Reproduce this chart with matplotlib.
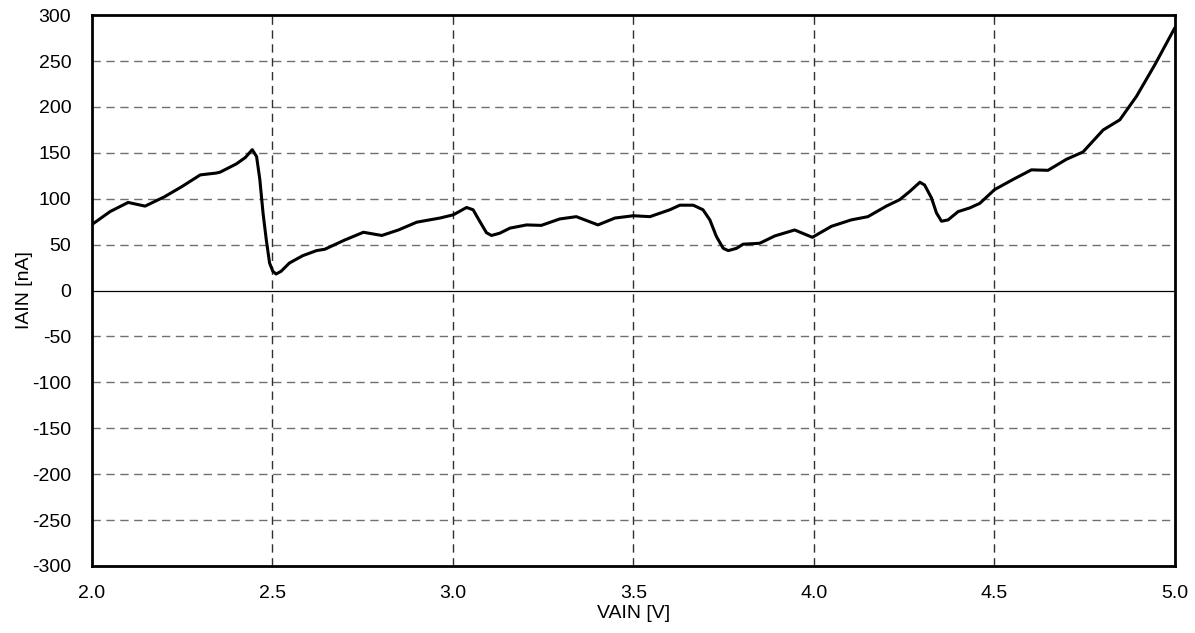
import matplotlib
matplotlib.use("Agg")
import matplotlib.pyplot as plt

plt.rcParams["font.family"] = ["Liberation Sans", "DejaVu Sans"]
plt.rcParams["axes.unicode_minus"] = False

# IAIN vs VAIN
vain = [2.0, 2.05, 2.10, 2.147, 2.20, 2.248, 2.30, 2.344, 2.355, 2.40, 2.425, 2.444,
        2.456, 2.465, 2.474, 2.483, 2.492, 2.501, 2.51, 2.524, 2.547, 2.584, 2.622,
        2.645, 2.70, 2.752, 2.803, 2.849, 2.90, 2.964, 3.001, 3.038, 3.056, 3.075,
        3.093, 3.107, 3.13, 3.158, 3.204, 3.245, 3.296, 3.342, 3.402, 3.449, 3.50,
        3.546, 3.601, 3.629, 3.666, 3.693, 3.712, 3.730, 3.749, 3.763, 3.786, 3.804,
        3.850, 3.892, 3.947, 3.996, 4.049, 4.104, 4.15, 4.201, 4.238, 4.266, 4.294,
        4.307, 4.326, 4.34, 4.354, 4.372, 4.40, 4.432, 4.46, 4.501, 4.552, 4.603,
        4.649, 4.70, 4.746, 4.802, 4.848, 4.894, 4.945, 5.0]
iain = [72, 86, 96, 92, 102, 113, 126, 128, 129, 138, 145, 153.5,
        146, 121, 84, 55, 30, 21, 18, 21, 30, 38, 43.5,
        45, 55, 63.5, 60, 66, 74.5, 79, 82.5, 90.5, 88, 75,
        63, 60, 62.5, 68, 71.5, 71, 78, 80.5, 71.5, 79, 81.5,
        80.5, 88, 93, 93, 88, 77, 59, 46, 43.5, 46, 50.5,
        51.5, 59.5, 66, 58, 70, 77, 80.5, 92, 99, 108, 118,
        115, 101, 84.5, 75.5, 77, 86, 90, 95, 110, 121, 131.5,
        131, 143, 151, 175, 186, 211.5, 246, 286]

x_ticks = [2.0, 2.5, 3.0, 3.5, 4.0, 4.5, 5.0]
y_ticks = list(range(-300, 301, 50))

fig = plt.figure(figsize=(11.95, 6.33), dpi=100)
ax = fig.add_axes([0.077, 0.106, 0.906, 0.870])

ax.plot(vain, iain, color="black", lw=2.2, zorder=3,
        solid_joinstyle="round", solid_capstyle="round")
ax.axhline(0, color="black", lw=0.9, zorder=2)

ax.set_xlim(2.0, 5.0)
ax.set_ylim(-300, 300)
ax.set_xticks(x_ticks)
ax.set_xticklabels([f"{t:.1f}" for t in x_ticks])
ax.set_yticks(y_ticks)
ax.tick_params(axis="y", length=0, labelsize=14, pad=15)
ax.tick_params(axis="x", length=0, labelsize=14, pad=14)

for y in y_ticks[1:-1]:
    if y != 0:
        ax.axhline(y, color="#707070", lw=1.0, ls=(0, (6, 4)), zorder=1)
for x in x_ticks[1:-1]:
    ax.axvline(x, color="#303030", lw=1.0, ls=(0, (6, 4)), zorder=1)

for s in ax.spines.values():
    s.set_linewidth(2)
    s.set_color("black")

ax.set_xlabel("VAIN [V]", fontsize=14, labelpad=2)
ax.set_ylabel("IAIN [nA]", fontsize=14, labelpad=-1)

fig.savefig("out.png", dpi=100)
